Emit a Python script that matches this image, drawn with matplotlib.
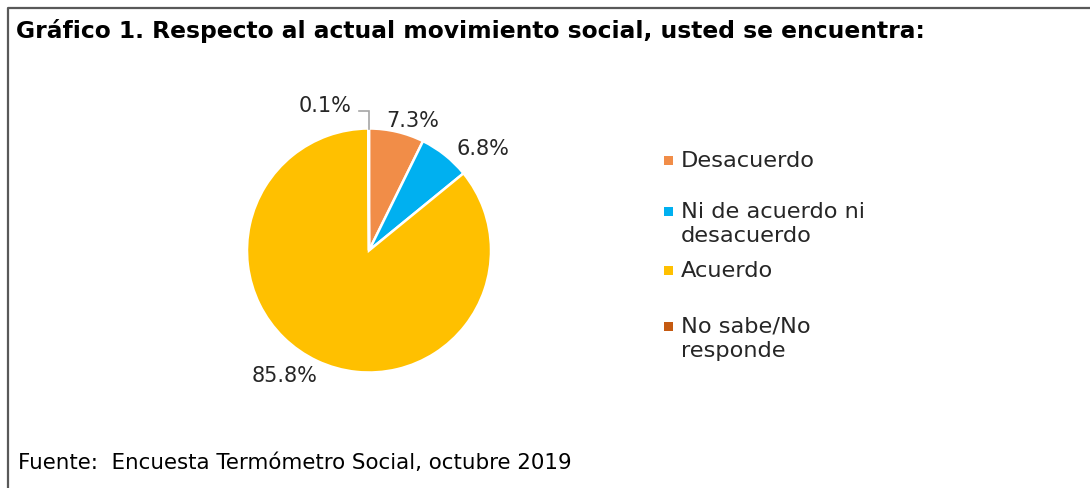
import matplotlib
matplotlib.use("Agg")
import matplotlib.pyplot as plt
import numpy as np
from matplotlib.lines import Line2D

# survey shares, in the order the slices are drawn (clockwise from 12 o'clock)
categories = ["Desacuerdo", "Ni de acuerdo ni\ndesacuerdo", "Acuerdo", "No sabe/No\nresponde"]
shares = [7.3, 6.8, 85.8, 0.1]
colors = ["#F18D48", "#00B0F0", "#FFC000", "#C55A11"]

title = "Gráfico 1. Respecto al actual movimiento social, usted se encuentra:"
source = "Fuente:  Encuesta Termómetro Social, octubre 2019"

W, H = 1090, 489
plt.rcParams["font.family"] = "DejaVu Sans"
fig = plt.figure(figsize=(W / 100, H / 100), dpi=100)
fig.patch.set_facecolor("white")


def fx(px):
    return px / W


def fy(py):
    return 1 - py / H


# frame around the chart (top and left edges)
fig.add_artist(Line2D([fx(8), fx(8), 1.0], [0.0, fy(8.5), fy(8.5)],
                      transform=fig.transFigure, color="#595959", lw=1.6))

fig.text(fx(16), fy(38), title, fontsize=16.8, fontweight="bold", va="baseline", color="black")
fig.text(fx(18), fy(469), source, fontsize=15.4, va="baseline", color="black")

# pie
cx, cy, r = 369, 251.5, 122
ax = fig.add_axes([fx(cx - r), fy(cy + r), 2 * r / W, 2 * r / H])
wedges, _ = ax.pie(shares, colors=colors, startangle=90, counterclock=False,
                   radius=1.0, wedgeprops=dict(edgecolor="white", linewidth=1.8))
ax.set_xlim(-1, 1)
ax.set_ylim(-1, 1)
ax.set_aspect("equal")
ax.axis("off")

# percent labels, offset from the rim point at each slice's mid angle
label_offsets = [(-10, 6, "left"), (12, 1, "left"), (0, -20, "right"), (-17, 18, "right")]
for w, val, (dx, dy, ha) in zip(wedges, shares, label_offsets):
    mid = np.deg2rad((w.theta1 + w.theta2) / 2)
    px, py = np.cos(mid), np.sin(mid)
    ax.annotate(f"{val:.1f}%", xy=(px, py), xytext=(dx, dy), textcoords="offset pixels",
                ha=ha, va="baseline", fontsize=15, color="#262626")

# leader line for the tiny slice
w = wedges[-1]
mid = np.deg2rad((w.theta1 + w.theta2) / 2)
px, py = np.cos(mid), np.sin(mid)
ax.plot([px, px, px - 0.08], [py, py * 1.143, py * 1.143], color="#A6A6A6", lw=1.2,
        clip_on=False, solid_joinstyle="miter")

# legend: marker beside the first line of each entry
baselines = [167, 218, 277, 333]
line_gap = 24
for lab, col, yb in zip(categories, colors, baselines):
    for i, line in enumerate(lab.split("\n")):
        fig.text(fx(681), fy(yb + i * line_gap), line, fontsize=16.2, va="baseline",
                 color="#262626")
    fig.patches.append(plt.Rectangle((fx(664), fy(yb - 1)), 9 / W, 9 / H,
                                     transform=fig.transFigure, color=col, lw=0))

fig.savefig("out.png", dpi=100)
